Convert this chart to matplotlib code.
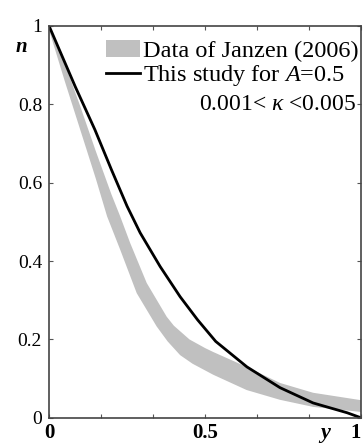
import numpy as np
import matplotlib
matplotlib.use("Agg")
from matplotlib import pyplot as plt
from matplotlib.patches import Patch
from matplotlib.lines import Line2D

plt.rcParams["font.family"] = ["Liberation Serif", "DejaVu Serif"]
plt.rcParams["mathtext.fontset"] = "custom"
plt.rcParams["mathtext.rm"] = "Liberation Serif"
plt.rcParams["mathtext.it"] = "Liberation Serif:italic"

# Data of Janzen (2006): upper and lower limits of the band
upper_x = [0, 0.05, 0.10, 0.15, 0.20, 0.228, 0.26, 0.313, 0.377, 0.40, 0.45, 0.50, 0.526, 0.633, 0.74, 0.846, 1.0]
upper_n = [1.0, 0.905, 0.795, 0.68, 0.57, 0.514, 0.446, 0.344, 0.258, 0.235, 0.20, 0.178, 0.168, 0.13, 0.089, 0.064, 0.045]
lower_x = [0, 0.05, 0.10, 0.15, 0.186, 0.228, 0.281, 0.345, 0.38, 0.42, 0.46, 0.526, 0.633, 0.74, 0.846, 1.0]
lower_n = [0.99, 0.86, 0.735, 0.61, 0.514, 0.429, 0.318, 0.233, 0.195, 0.16, 0.138, 0.11, 0.071, 0.046, 0.028, 0.015]

# This study for A=0.5
study_x = [0, 0.084, 0.147, 0.2, 0.25, 0.292, 0.356, 0.42, 0.476, 0.534, 0.634, 0.74, 0.846, 0.955, 1.0]
study_n = [1.0, 0.845, 0.735, 0.633, 0.54, 0.472, 0.386, 0.309, 0.25, 0.195, 0.13, 0.077, 0.038, 0.013, 0.0]

x_ticks = np.linspace(0, 1, 7)
x_labels = {0: "0", 3: "0.5", 6: "1"}
y_ticks = [0, 0.2, 0.4, 0.6, 0.8, 1.0]
y_labels = ["0", "0.2", "0.4", "0.6", "0.8", "1"]

fig = plt.figure(figsize=(3.63, 4.45), dpi=100)
ax = fig.add_axes([0.135, 0.061, 0.86, 0.881])

gray = "#c0c0c0"
band_x = np.concatenate([upper_x, lower_x[::-1]])
band_n = np.concatenate([upper_n, lower_n[::-1]])
ax.fill(band_x, band_n, facecolor=gray, edgecolor="none")
ax.plot(study_x, study_n, color="black", linewidth=2.0)

ax.set_xlim(0, 1)
ax.set_ylim(0, 1)

ax.set_xticks(x_ticks)
ax.set_xticklabels([x_labels.get(i, "") for i in range(len(x_ticks))],
                   fontsize=15, fontweight="bold")
ax.get_xticklabels()[-1].set_ha("right")
ax.set_yticks(y_ticks)
ax.set_yticklabels(y_labels, fontsize=14)
ax.tick_params(direction="in", length=3, width=0.8, top=True, right=True,
               color="#555555")
ax.tick_params(axis="x", pad=4)
ax.tick_params(axis="y", pad=5)
for s in ax.spines.values():
    s.set_linewidth(1.2)
    s.set_color("#444444")

# axis labels placed like the original
ax.text(-0.09, 0.945, "n", transform=ax.transAxes, fontsize=15,
        fontweight="bold", fontstyle="italic", ha="center", va="center")
ax.text(0.885, -0.038, "y", transform=ax.transAxes, fontsize=16,
        fontweight="bold", fontstyle="italic", ha="center", va="center")

handles = [Patch(facecolor=gray, edgecolor="none"),
           Line2D([], [], color="black", linewidth=2.0)]
labels = ["Data of Janzen (2006)", "This study for $\\mathit{A}$=0.5"]
ax.legend(handles, labels, loc="upper right", bbox_to_anchor=(1.03, 0.995),
          frameon=False, fontsize=17.5, handlelength=1.4, handletextpad=0.1,
          labelspacing=0.05, borderaxespad=0.1, handleheight=0.7)
ax.text(0.985, 0.80, "0.001< $\\mathit{\\kappa}$ <0.005", transform=ax.transAxes,
        fontsize=17, ha="right", va="center")

fig.savefig("out.png", dpi=100)
